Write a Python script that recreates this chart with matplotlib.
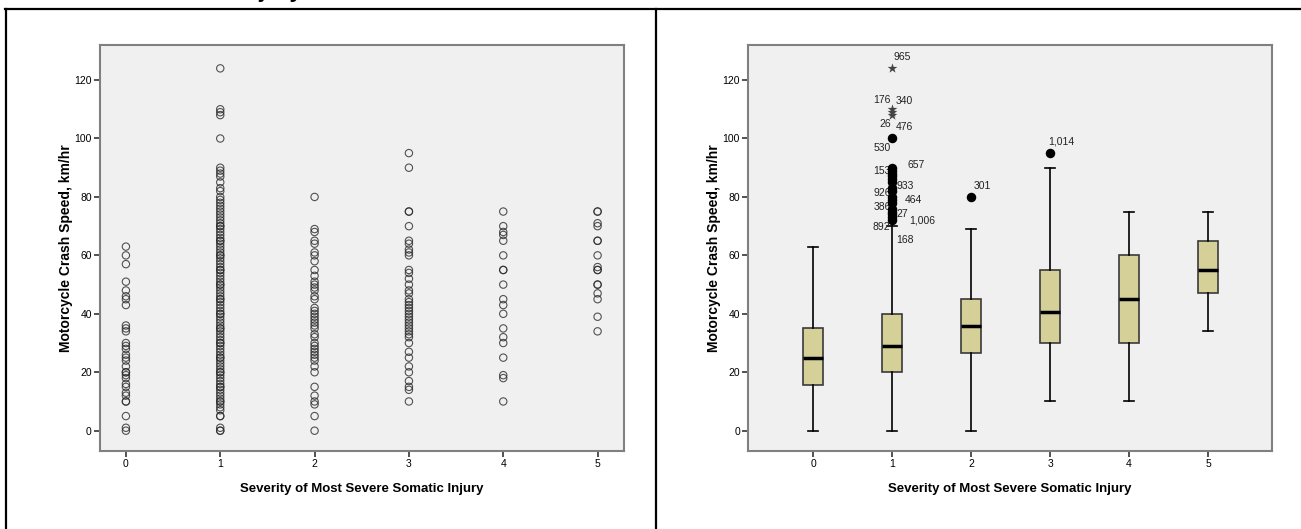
import matplotlib.pyplot as plt
from matplotlib.lines import Line2D

# severity groups
groups = [0, 1, 2, 3, 4, 5]

# crash speeds (km/hr), one list per severity
speed_0 = [63, 60, 57, 51, 48, 46, 45, 43, 36, 35, 34, 30, 29, 28, 26, 25, 24, 22,
           20, 20, 19, 18, 16, 15, 13, 12, 10, 10, 5, 1, 0]
speed_1 = [124, 110, 109, 108, 100, 90, 89, 88, 87, 85, 83, 82, 80, 79, 78, 77, 76,
           75, 74, 73, 72, 71, 70, 70, 69, 68, 67, 66, 65, 65, 64, 63, 62, 61, 60, 60,
           59, 58, 57, 56, 55, 55, 54, 53, 52, 51, 50, 50, 49, 48, 47, 46, 45, 45, 44,
           43, 42, 41, 40, 40, 39, 38, 37, 36, 35, 35, 34, 33, 32, 31, 30, 30, 29, 28,
           27, 26, 25, 25, 24, 23, 22, 21, 20, 20, 19, 18, 17, 16, 15, 15, 14, 13, 12,
           11, 10, 10, 9, 8, 7, 5, 5, 1, 0, 0]
speed_2 = [80, 69, 68, 65, 64, 61, 60, 58, 55, 53, 51, 50, 49, 48, 46, 45, 42, 41, 40,
           39, 38, 37, 36, 35, 33, 32, 30, 29, 28, 27, 26, 25, 24, 22, 20, 15, 12, 10,
           9, 5, 0]
speed_3 = [95, 90, 75, 75, 70, 65, 64, 62, 61, 60, 55, 54, 52, 50, 48, 47, 45, 44, 43,
           42, 41, 40, 39, 38, 37, 36, 35, 34, 33, 32, 30, 27, 25, 22, 20, 17, 15, 14, 10]
speed_4 = [75, 70, 68, 67, 65, 60, 55, 55, 50, 45, 43, 40, 35, 32, 30, 25, 19, 18, 10]
speed_5 = [75, 75, 71, 70, 65, 65, 60, 56, 55, 55, 50, 50, 47, 45, 39, 34]
speeds = [speed_0, speed_1, speed_2, speed_3, speed_4, speed_5]

# box plot statistics
whis_lo = [0, 0, 0, 10, 10, 34]
q1 = [15.5, 20, 26.5, 30, 30, 47]
medians = [25, 29, 36, 40.5, 45, 55]
q3 = [35, 40, 45, 55, 60, 65]
whis_hi = [63, 70, 69, 90, 75, 75]

# outliers (circles) and extremes (stars)
out_x = [1] * 17 + [2, 3]
out_y = [72, 73, 74, 75, 76, 78, 79, 80, 82, 83, 85, 86, 87, 88, 89, 90, 100, 80, 95]
ext_x = [1, 1, 1, 1]
ext_y = [108, 109, 110, 124]

# case labels: text, x, y, alignment
case_labels = ["965", "176", "340", "26", "476", "530", "153", "657", "933", "926",
               "464", "386", "27", "1,006", "892", "168", "301", "1,014"]
case_x = [1.02, 0.98, 1.04, 0.98, 1.05, 0.98, 0.98, 1.19, 1.05, 0.98,
          1.16, 0.98, 1.06, 1.21, 0.98, 1.05, 2.03, 2.98]
case_y = [128, 113.3, 112.8, 104.8, 103.9, 96.8, 88.8, 90.8, 83.9, 81.3,
          78.9, 76.7, 74.2, 72.1, 69.8, 65.2, 83.8, 99]
case_ha = ["left", "right", "left", "right", "left", "right", "right", "left", "left",
           "right", "left", "right", "left", "left", "right", "left", "left", "left"]

font = ["Liberation Sans", "DejaVu Sans"]

fig = plt.figure(figsize=(13.01, 5.29), dpi=100)
W, H = 1301, 529

ax1 = fig.add_axes([99.5 / W, (H - 451) / H, (624 - 99.5) / W, (451 - 44.7) / H])
ax2 = fig.add_axes([747.7 / W, (H - 451) / H, (1272 - 747.7) / W, (451 - 44.7) / H])

# left: scatter
for g, s in zip(groups, speeds):
    ax1.scatter([g] * len(s), s, s=28, facecolors="none", edgecolors="#2a2a2a",
                linewidths=0.8, alpha=0.8, zorder=3)
ax1.set_xlim(-0.28, 5.28)

# right: box plot
stats = []
for i in range(len(groups)):
    stats.append({"whislo": whis_lo[i], "q1": q1[i], "med": medians[i],
                  "q3": q3[i], "whishi": whis_hi[i], "fliers": []})
ax2.bxp(stats, positions=groups, widths=0.25, capwidths=0.12, patch_artist=True,
        showfliers=False,
        boxprops=dict(facecolor="#D5CF98", edgecolor="#3a3a3a", linewidth=1.2),
        medianprops=dict(color="black", linewidth=2.5),
        whiskerprops=dict(color="black", linewidth=1.2),
        capprops=dict(color="black", linewidth=1.2))
ax2.scatter(out_x, out_y, s=34, color="black", zorder=4)
ax2.scatter(ext_x, ext_y, s=55, marker="*", color="#444444", linewidths=0, zorder=4)
for t, x, y, ha in zip(case_labels, case_x, case_y, case_ha):
    ax2.text(x, y, t, ha=ha, va="center", fontsize=7.5, family=font, color="#222222")
ax2.set_xlim(-0.83, 5.81)

for ax in (ax1, ax2):
    ax.set_facecolor("#F0F0F0")
    ax.set_ylim(-6.95, 132.1)
    ax.set_yticks([0, 20, 40, 60, 80, 100, 120])
    ax.set_xticks(groups)
    ax.set_xticklabels([str(g) for g in groups])
    ax.tick_params(length=4, width=1.2, color="#333333", labelsize=7.5, pad=1.5)
    for lab in ax.get_xticklabels() + ax.get_yticklabels():
        lab.set_family(font)
    for sp in ax.spines.values():
        sp.set_color("#808080")
        sp.set_linewidth(1.5)
    ax.set_ylabel("Motorcycle Crash Speed, km/hr", fontsize=10, fontweight="bold",
                  family=font, labelpad=1)
    ax.set_xlabel("Severity of Most Severe Somatic Injury", fontsize=9.5,
                  fontweight="bold", family=font, labelpad=10)

# panel frame lines
fig.add_artist(Line2D([5 / W, 1], [1 - 9 / H, 1 - 9 / H], color="black", linewidth=1.6,
                      transform=fig.transFigure))
fig.add_artist(Line2D([6 / W, 6 / W], [0, 1 - 9 / H], color="black", linewidth=1.6,
                      transform=fig.transFigure))
fig.add_artist(Line2D([656 / W, 656 / W], [0, 1 - 9 / H], color="black", linewidth=1.6,
                      transform=fig.transFigure))

# cut-off heading above the panels (only descenders show in the reference)
fig.text(238 / W, 1 + 2.5 / H, "Injury", fontsize=17, fontweight="bold", family=font,
         va="baseline", ha="left")

fig.savefig("out.png", dpi=100)
